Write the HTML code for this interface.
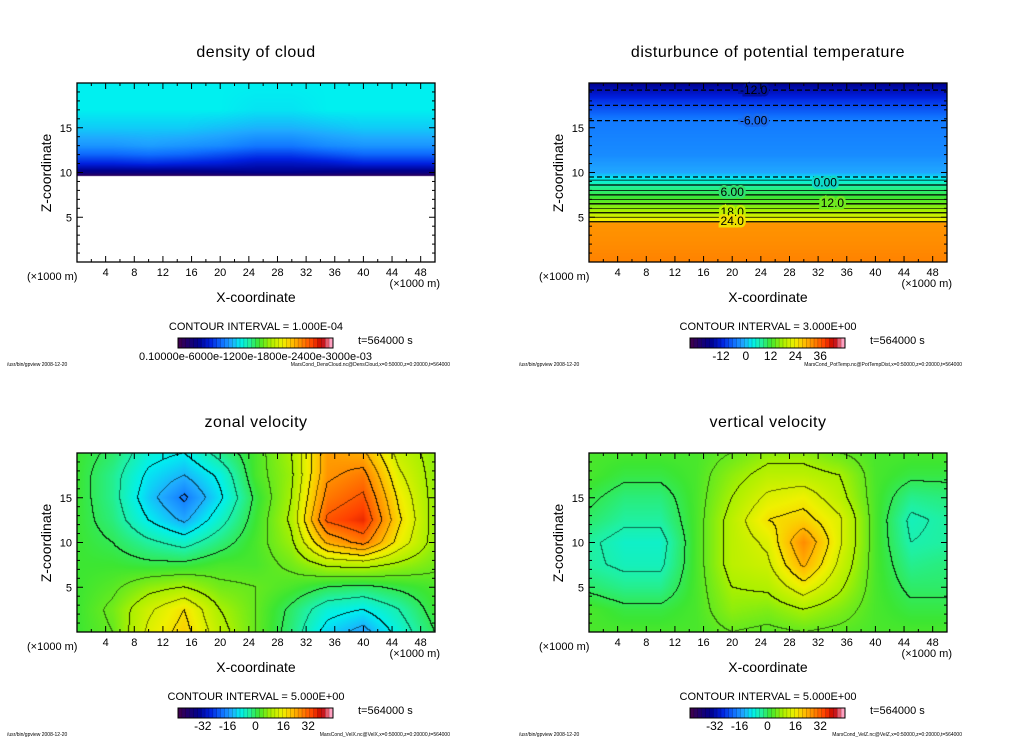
<!DOCTYPE html>
<html><head><meta charset="utf-8">
<style>
body{margin:0;background:#fff;width:1024px;height:740px;overflow:hidden;position:relative;font-family:"Liberation Sans",sans-serif;}
canvas{position:absolute;}
svg{position:absolute;left:0;top:0;}
text{font-family:"Liberation Sans",sans-serif;fill:#000;}
</style></head>
<body>
<canvas id="c0" width="358" height="179" style="left:77px;top:83px"></canvas>
<canvas id="c1" width="358" height="179" style="left:589px;top:83px"></canvas>
<canvas id="c2" width="358" height="179" style="left:77px;top:453px"></canvas>
<canvas id="c3" width="358" height="179" style="left:589px;top:453px"></canvas>
<svg id="s" width="1024" height="740"></svg>
<script>
// ---- data ----
const xNodes = [0,5,10,15,20,25,30,35,40,45,50];
const zCloud = [9.6,10,11,12,13,15,17,20];
const cloudVals = [
 [0.02,0.02,0.02,0.02,0.03,0.03,0.03,0.03,0.02,0.02,0.02],
 [0.10,0.10,0.10,0.10,0.11,0.12,0.12,0.11,0.10,0.10,0.10],
 [0.20,0.20,0.21,0.20,0.19,0.17,0.17,0.18,0.20,0.20,0.20],
 [0.27,0.27,0.28,0.27,0.25,0.23,0.23,0.25,0.27,0.27,0.27],
 [0.32,0.32,0.33,0.32,0.31,0.29,0.29,0.31,0.32,0.32,0.32],
 [0.37,0.37,0.37,0.37,0.36,0.35,0.35,0.36,0.37,0.37,0.37],
 [0.40,0.40,0.40,0.40,0.40,0.39,0.39,0.40,0.40,0.40,0.40],
 [0.40,0.40,0.40,0.40,0.40,0.40,0.40,0.40,0.40,0.40,0.40]];
const zTemp = [0,2,4.3,4.6,5.5,7,8.5,9.3,10,12,16,18,20];
const tempProfile = [0.81,0.80,0.79,0.69,0.61,0.53,0.46,0.40,0.34,0.31,0.29,0.22,0.12];
const zGrid = [0,2.5,5,7.5,10,12.5,15,17.5,20];
const zonalVals = [
 [.52,.55,.66,.72,.62,.55,.48,.38,.33,.42,.5],
 [.52,.56,.64,.70,.60,.55,.49,.42,.40,.45,.52],
 [.52,.54,.58,.60,.56,.55,.53,.50,.49,.51,.53],
 [.52,.52,.51,.51,.53,.53,.56,.61,.62,.59,.56],
 [.52,.50,.46,.43,.48,.53,.59,.76,.82,.68,.58],
 [.52,.48,.40,.34,.43,.52,.61,.86,.90,.71,.58],
 [.52,.47,.37,.29,.39,.51,.60,.82,.86,.69,.58],
 [.52,.47,.39,.35,.41,.53,.59,.79,.82,.66,.58],
 [.52,.49,.42,.40,.47,.53,.60,.78,.76,.63,.58]];
const vertVals = [
 [.53,.53,.53,.53,.55,.54,.55,.54,.53,.53,.53],
 [.53,.51,.51,.53,.58,.57,.60,.57,.53,.51,.51],
 [.49,.47,.47,.53,.60,.61,.68,.61,.53,.49,.49],
 [.46,.44,.44,.53,.62,.64,.76,.64,.53,.47,.48],
 [.46,.43,.43,.53,.62,.66,.80,.66,.53,.45,.46],
 [.49,.46,.46,.53,.62,.70,.72,.66,.53,.44,.46],
 [.51,.48,.48,.53,.60,.66,.68,.62,.53,.47,.48],
 [.53,.51,.51,.53,.58,.62,.62,.60,.53,.51,.51],
 [.53,.53,.53,.53,.55,.58,.58,.55,.53,.53,.53]];
const tempLines = [19.2,17.5,15.8,9.5,9.15,8.6,8.0,7.5,7.0,6.5,6.0,5.5,5.0,4.5];
const tempLineDash = [1,1,1,1,0,0,0,0,0,0,0,0,0,0];
const xTicks = [4,8,12,16,20,24,28,32,36,40,44,48];
const zTicks = [5,10,15];
const titles = ["density of cloud","disturbunce of potential temperature","zonal velocity","vertical velocity"];
const intervals = ["1.000E-04","3.000E+00","5.000E+00","5.000E+00"];
const barLabels = [["0.10000e-6000e-1200e-1800e-2400e-3000e-03"],["-12","0","12","24","36"],["-32","-16","0","16","32"],["-32","-16","0","16","32"]];
const barLabelPos = [[0.5],[0.2,0.36,0.52,0.68,0.84],[0.16,0.32,0.5,0.68,0.84],[0.16,0.32,0.5,0.68,0.84]];
const files = ["MarsCond_DensCloud.nc@DensCloud,x=0:50000,z=0:20000,t=564000","MarsCond_PotTemp.nc@PotTempDist,x=0:50000,z=0:20000,t=564000","MarsCond_VelX.nc@VelX,x=0:50000,z=0:20000,t=564000","MarsCond_VelZ.nc@VelZ,x=0:50000,z=0:20000,t=564000"];

const stops=[[0,[60,0,80]],[.06,[26,0,112]],[.12,[0,0,140]],[.2,[0,32,224]],[.28,[16,112,255]],[.34,[32,168,255]],[.4,[0,240,240]],[.46,[32,240,160]],[.52,[60,230,50]],[.6,[170,240,0]],[.68,[240,240,0]],[.74,[255,192,0]],[.8,[255,140,0]],[.88,[255,64,0]],[.94,[192,0,0]],[1,[255,160,192]]];
function cmap(t){t=Math.max(0,Math.min(1,t));for(let i=1;i<stops.length;i++){if(t<=stops[i][0]){const a=stops[i-1],b=stops[i],f=(t-a[0])/(b[0]-a[0]);return a[1].map((v,k)=>Math.round(v+(b[1][k]-v)*f));}}return stops[stops.length-1][1];}
function idx(arr,v){for(let i=0;i<arr.length-1;i++){if(v<=arr[i+1])return[i,(v-arr[i])/(arr[i+1]-arr[i])];}return[arr.length-2,1];}
function sample(zs,vals,x,z){if(z<zs[0])return null;const[i,fx]=idx(xNodes,x),[j,fz]=idx(zs,z);const a=vals[j][i],b=vals[j][i+1],c=vals[j+1][i],d=vals[j+1][i+1];return (a*(1-fx)+b*fx)*(1-fz)+(c*(1-fx)+d*fx)*fz;}
const W=358,H=179;
function draw(id,zs,vals,step){const ctx=document.getElementById(id).getContext('2d');const img=ctx.createImageData(W,H);
 const F=[];for(let py=0;py<H;py++){F.push([]);const z=20*(1-(py+.5)/H);for(let px=0;px<W;px++){F[py].push(sample(zs,vals,50*(px+.5)/W,z));}}
 for(let py=0;py<H;py++){for(let px=0;px<W;px++){const v=F[py][px];const o=(py*W+px)*4;let c=v===null?[255,255,255]:cmap(v);
  if(step&&v!==null){const b=Math.floor((v-0.5)/step);const r=px+1<W?F[py][px+1]:v,d=py+1<H?F[py+1][px]:v;
   if(Math.floor((r-0.5)/step)!==b||Math.floor((d-0.5)/step)!==b){const lv=Math.max(b,Math.floor((r-0.5)/step),Math.floor((d-0.5)/step));const k=lv%2===0?0.15:0.45;c=c.map(q=>Math.round(q*k));}}
  img.data[o]=c[0];img.data[o+1]=c[1];img.data[o+2]=c[2];img.data[o+3]=255;}}
 ctx.putImageData(img,0,0);}
draw('c0',zCloud,cloudVals,0);
draw('c1',zTemp,zTemp.map((z,j)=>xNodes.map(()=>tempProfile[j])),0);
draw('c2',zGrid,zonalVals,0.05);
draw('c3',zGrid,vertVals,0.05);

const S=document.getElementById('s');const NS='http://www.w3.org/2000/svg';
function el(tag,at,txt){const e=document.createElementNS(NS,tag);for(const k in at)e.setAttribute(k,at[k]);if(txt!==undefined)e.textContent=txt;S.appendChild(e);return e;}
const origins=[[77,83],[589,83],[77,453],[589,453]];
origins.forEach(([ox,oy],p)=>{
 const sx=x=>ox+x/50*W, sz=z=>oy+H-z/20*H;
 let t=el('text',{x:ox+179,y:oy-26,'font-size':16,'text-anchor':'middle','letter-spacing':'0.5'},titles[p]);
 
 if(p===1){tempLines.forEach((z,i)=>{const l=el('line',{x1:ox,x2:ox+W,y1:sz(z),y2:sz(z),stroke:'#000','stroke-width':tempLineDash[i]?1.2:(i%2?1.3:0.7),'stroke-dasharray':tempLineDash[i]?'5,3':'none'});});
  [['-12.0',19.2,23,'#0010a0'],['-6.00',15.8,23,'#1a6cf0'],['0.00',8.9,33,'#10d8c8'],['6.00',7.8,20,'#30e070'],['12.0',6.6,34,'#70e820'],['18.0',5.6,20,'#c0f000'],['24.0',4.6,20,'#f0e000']].forEach(([s,z,x,bg])=>{const tl=el('text',{x:sx(x),y:sz(z)+4,'font-size':12,'text-anchor':'middle',stroke:bg,'stroke-width':5,'paint-order':'stroke'},s);});}
 const fr=el('rect',{x:ox,y:oy,width:W,height:H,fill:'none',stroke:'#000','stroke-width':1.3});
 
 for(let x=2;x<50;x+=2){const L=x%4===0?6:3;el('line',{x1:sx(x),x2:sx(x),y1:oy+H,y2:oy+H-L,stroke:'#000'});el('line',{x1:sx(x),x2:sx(x),y1:oy,y2:oy+L,stroke:'#000'});}
 for(let z=1;z<20;z++){const L=z%5===0?6:3;el('line',{x1:ox,x2:ox+L,y1:sz(z),y2:sz(z),stroke:'#000'});el('line',{x1:ox+W,x2:ox+W-L,y1:sz(z),y2:sz(z),stroke:'#000'});}
 xTicks.forEach(v=>{const e=el('text',{x:sx(v),y:oy+H+14,'font-size':11,'text-anchor':'middle'},String(v));});
 zTicks.forEach(v=>{const e=el('text',{x:ox-5,y:sz(v)+4,'font-size':11,'text-anchor':'end'},String(v));});
 el('text',{x:ox-50,y:oy+H+18,'font-size':11},'(\u00d71000 m)');
 el('text',{x:ox+W+5,y:oy+H+25,'font-size':11,'text-anchor':'end'},'(\u00d71000 m)');
 t=el('text',{x:ox+179,y:oy+H+40,'font-size':14,'text-anchor':'middle'},'X-coordinate');
 t=el('text',{x:0,y:0,'font-size':14,'text-anchor':'middle',transform:`translate(${ox-26},${oy+90}) rotate(-90)`},'Z-coordinate');
 el('text',{x:ox+179,y:oy+H+68,'font-size':11,'text-anchor':'middle'},'CONTOUR INTERVAL = '+intervals[p]);
 el('text',{x:ox+281,y:oy+H+82,'font-size':11,fill:'#555'},'t=564000 s');
 const bx=ox+101,bw=155,by=oy+H+76;
 for(let i=0;i<40;i++){const c=cmap(i/39);el('rect',{x:bx+i*bw/40,y:by,width:bw/40+0.3,height:10,fill:`rgb(${c})`});}
 for(let i=1;i<40;i++)el('line',{x1:bx+i*bw/40,x2:bx+i*bw/40,y1:by,y2:by+10,stroke:'rgba(0,0,0,0.35)','stroke-width':0.5});
 const cb=el('rect',{x:bx,y:by,width:bw,height:10,fill:'none',stroke:'#000'});
 barLabels[p].forEach((s,i)=>{el('text',{x:bx+bw*barLabelPos[p][i],y:by+22,'font-size':p===0?11:12,'text-anchor':'middle'},s);});
 el('text',{x:ox-70,y:oy+H+104,'font-size':5},'/usr/bin/gpview   2008-12-20');
 el('text',{x:ox+W+15,y:oy+H+104,'font-size':5,'text-anchor':'end'},files[p]);
});
</script>
</body></html>
